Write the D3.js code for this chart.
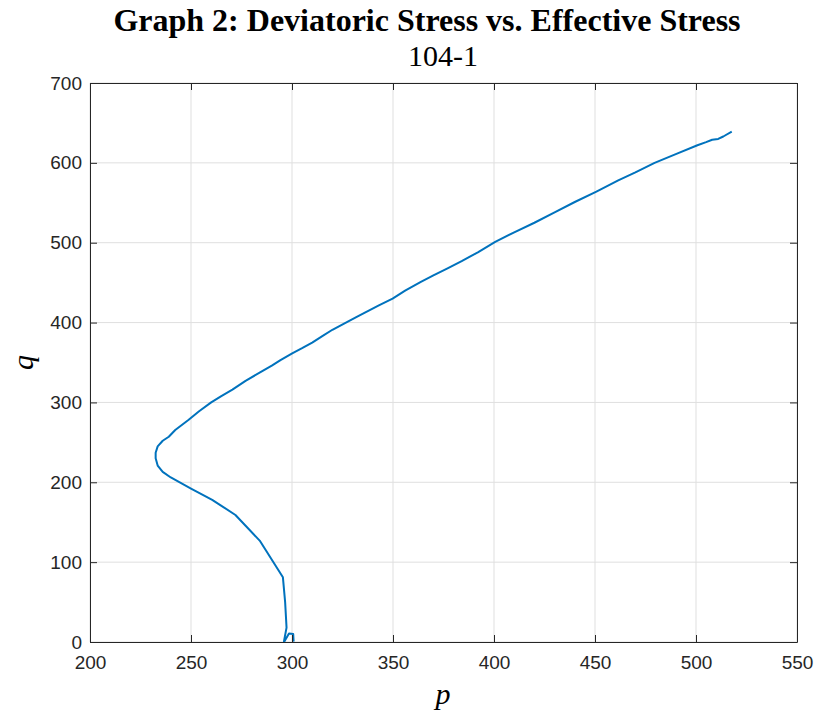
<!DOCTYPE html>
<html>
<head>
<meta charset="utf-8">
<script src="https://cdn.jsdelivr.net/npm/d3@7"></script>
<style>
  html, body { margin: 0; padding: 0; background: #fff; }
  svg { display: block; }
</style>
</head>
<body>
<svg id="chart" width="817" height="715"></svg>
<script>
// Mean effective stress p and deviatoric stress q for specimen 104-1
const pValues = [300.8, 300.6, 298.5, 296.3, 296.0, 297.3, 296.6, 295.5, 284.0, 272.0, 264.5, 260.5,
  250.0, 240.0, 236.0, 233.5, 232.5, 232.5, 233.5, 236.0, 239.0, 242.2, 248.7, 254.0,
  260.0, 265.0, 270.5, 277.0, 284.4, 290.0, 294.3, 300.1, 305.0, 310.0, 315.0, 320.0,
  327.4, 333.0, 338.0, 343.0, 349.8, 356.0, 363.8, 370.0, 377.0, 384.0, 392.0, 400.6,
  410.0, 420.0, 430.0, 440.0, 450.7, 461.5, 470.0, 479.5, 490.0, 500.7, 505.0, 508.0,
  511.0, 513.5, 517.7];
const qValues = [0.5, 10.0, 10.5, 1.0, 0.5, 18.0, 50.0, 81.0, 127.0, 159.0, 171.5, 178.0,
  192.0, 206.0, 213.0, 221.0, 230.0, 237.0, 245.0, 252.0, 257.0, 265.5, 278.0, 289.0,
  300.0, 308.0, 316.0, 327.0, 338.0, 346.0, 353.0, 361.5, 368.0, 375.0, 383.0, 391.0,
  401.0, 408.5, 415.0, 421.5, 430.0, 440.0, 451.0, 459.0, 468.0, 477.0, 488.0, 501.0,
  513.0, 525.0, 538.0, 551.0, 564.0, 578.0, 588.0, 600.0, 611.0, 622.0, 626.0, 629.0,
  630.0, 633.0, 639.0];

const xTicks = [200, 250, 300, 350, 400, 450, 500, 550];
const yTicks = [0, 100, 200, 300, 400, 500, 600, 700];

const titleText = "Graph 2: Deviatoric Stress vs. Effective Stress";
const subtitleText = "104-1";

const svg = d3.select("#chart");
const margin = { left: 90, right: 20, top: 83, bottom: 73 };
const W = 817, H = 715;

const x = d3.scaleLinear().domain([200, 550]).range([margin.left, W - margin.right]);
const y = d3.scaleLinear().domain([0, 700]).range([H - margin.bottom, margin.top]);

const axisColor = "#262626";

// grid
const grid = svg.append("g");
grid.selectAll("line.gx").data(xTicks).join("line")
  .attr("x1", d => x(d)).attr("x2", d => x(d))
  .attr("y1", y(0)).attr("y2", y(700))
  .attr("stroke", "#dfdfdf").attr("stroke-width", 1);
grid.selectAll("line.gy").data(yTicks).join("line")
  .attr("x1", x(200)).attr("x2", x(550))
  .attr("y1", d => y(d)).attr("y2", d => y(d))
  .attr("stroke", "#dfdfdf").attr("stroke-width", 1);

// data line
const pts = pValues.map((p, i) => [p, qValues[i]]);
svg.append("path")
  .datum(pts)
  .attr("fill", "none")
  .attr("stroke", "#0072BD")
  .attr("stroke-width", 2)
  .attr("stroke-linejoin", "round")
  .attr("d", d3.line().x(d => x(d[0])).y(d => y(d[1])));

// axes with inward ticks
const tickFont = "Liberation Sans, Arial, sans-serif";
const bottomAxis = d3.axisBottom(x).tickValues(xTicks).tickSizeInner(-7).tickSizeOuter(0).tickPadding(14);
const leftAxis = d3.axisLeft(y).tickValues(yTicks).tickSizeInner(-7).tickSizeOuter(0).tickPadding(8);
const topAxis = d3.axisTop(x).tickValues(xTicks).tickSizeInner(-7).tickSizeOuter(0).tickFormat("");
const rightAxis = d3.axisRight(y).tickValues(yTicks).tickSizeInner(-7).tickSizeOuter(0).tickFormat("");

function styleAxis(g) {
  g.select(".domain").attr("stroke", axisColor);
  g.selectAll(".tick line").attr("stroke", axisColor);
  g.selectAll(".tick text").attr("fill", axisColor)
    .style("font-family", tickFont).style("font-size", "19px");
}

svg.append("g").attr("transform", `translate(0,${y(0)})`).call(bottomAxis).call(styleAxis);
svg.append("g").attr("transform", `translate(${x(200)},0)`).call(leftAxis).call(styleAxis);
svg.append("g").attr("transform", `translate(0,${y(700)})`).call(topAxis).call(styleAxis);
svg.append("g").attr("transform", `translate(${x(550)},0)`).call(rightAxis).call(styleAxis);

// titles
const serif = "Liberation Serif, Times New Roman, serif";
svg.append("text")
  .attr("x", 427).attr("y", 31)
  .attr("text-anchor", "middle")
  .style("font-family", serif).style("font-weight", "bold").style("font-size", "32px")
  .attr("fill", "#000")
  .text(titleText);
svg.append("text")
  .attr("x", 443).attr("y", 66)
  .attr("text-anchor", "middle")
  .style("font-family", serif).style("font-size", "30px")
  .attr("fill", "#000")
  .text(subtitleText);

// axis labels
svg.append("text")
  .attr("x", 443).attr("y", 704)
  .attr("text-anchor", "middle")
  .style("font-family", serif).style("font-style", "italic").style("font-size", "30px")
  .attr("fill", "#000")
  .text("p");
svg.append("text")
  .attr("transform", `translate(33,${(y(0) + y(700)) / 2}) rotate(-90)`)
  .attr("text-anchor", "middle")
  .style("font-family", serif).style("font-style", "italic").style("font-size", "30px")
  .attr("fill", "#000")
  .text("q");
</script>
</body>
</html>
